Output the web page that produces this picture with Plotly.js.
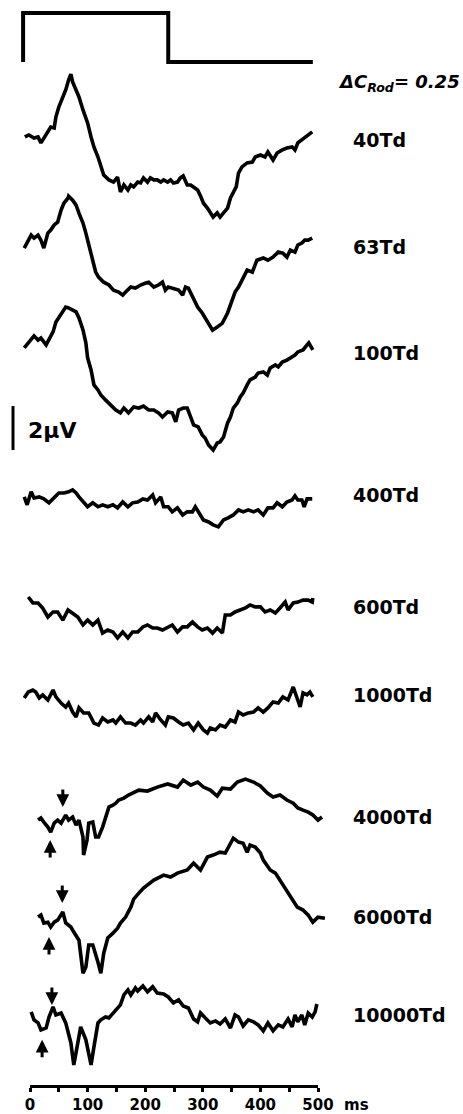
<!DOCTYPE html>
<html><head><meta charset="utf-8">
<script src="https://cdn.plot.ly/plotly-3.0.1.min.js"></script>
<style>html,body{margin:0;padding:0;background:#fff}#c{width:463px;height:1114px}</style>
</head><body><div id="c"></div>
<script>
// ---- data (time in ms, response in microvolts relative to each trace's own baseline) ----
const labels = ['40Td','63Td','100Td','400Td','600Td','1000Td','4000Td','6000Td','10000Td'];

const t40 = [-9,-2,7,14,19,24,31,36,42,45,50,57,62,67,71,74,80,85,92,100,106,111,118,123,128,137,145,152,157,163,170,175,180,187,192,197,204,209,215,221,227,232,239,244,249,256,261,266,273,279,284,291,296,301,308,313,318,325,330,336,343,348,353,358,362,368,377,386,391,400,408,413,422,429,438,446,455,460,465,472,477,483,490];
const v40 = [0,0.09,-0.05,0,-0.27,-0.05,0.23,0.45,0.41,0.91,1.36,1.77,2.14,2.59,2.86,2.5,2.14,1.82,1.23,0.64,0,-0.45,-0.91,-1.36,-1.73,-1.95,-2.05,-1.82,-2.5,-2.18,-2.41,-2.18,-2.27,-2.05,-2.09,-1.86,-2.05,-1.86,-1.95,-1.95,-2.05,-1.95,-2.05,-1.95,-2.09,-2.05,-1.86,-1.77,-2.18,-2.18,-2.27,-2.41,-2.68,-3.0,-3.23,-3.41,-3.64,-3.45,-3.64,-3.45,-3.23,-2.77,-2.5,-2.27,-1.64,-1.36,-1.18,-1.14,-0.91,-0.82,-0.91,-0.68,-1.05,-0.73,-0.59,-0.5,-0.45,-0.59,-0.27,-0.14,0,0.09,0.23];

const t63 = [-10,-3,2,7,14,19,24,31,36,42,48,54,59,66,67,74,80,85,92,97,102,109,114,119,128,137,145,154,161,166,175,183,192,201,206,215,223,230,235,240,249,258,265,270,275,282,291,299,308,317,325,334,343,351,356,362,368,377,386,394,405,413,422,431,439,446,452,460,465,472,477,483,490];
const v63 = [0,0.36,0.59,0.45,0.59,0.36,0,0.68,0.82,1.05,1.18,1.73,2.05,2.27,2.36,2.18,1.95,1.59,1.14,0.68,0.14,-0.55,-1.09,-1.32,-1.55,-1.68,-1.91,-2.0,-2.14,-2.0,-1.77,-1.82,-1.68,-1.59,-1.55,-1.77,-1.68,-1.55,-1.91,-1.77,-1.82,-1.91,-2.14,-1.77,-1.82,-2.23,-2.68,-2.95,-3.36,-3.73,-3.59,-3.41,-2.95,-2.36,-2.0,-1.77,-1.45,-1.0,-1.09,-0.55,-0.45,-0.55,-0.41,-0.18,-0.23,-0.41,-0.09,-0.18,0.14,0.23,0.36,0.36,0.45];

const t100 = [-10,-3,2,7,14,19,28,33,40,45,50,57,62,67,74,80,85,92,97,100,106,111,118,123,131,140,149,157,163,171,180,189,197,206,215,223,230,239,247,253,258,266,273,279,284,292,299,304,310,318,325,330,336,343,348,353,360,365,370,377,382,391,396,405,412,417,426,431,438,446,455,460,465,474,481,484,491];
const v100 = [0,0.23,0.45,0.55,0.36,0.45,0.14,0.36,0.73,1.18,1.36,1.64,1.86,1.82,1.73,1.64,1.36,0.82,0.23,-0.45,-1.0,-1.68,-1.91,-2.14,-2.36,-2.59,-2.82,-2.95,-2.73,-2.95,-2.68,-2.73,-2.64,-2.82,-2.82,-2.95,-3.14,-2.91,-2.95,-3.36,-2.82,-2.73,-2.73,-3.14,-3.5,-3.59,-3.95,-4.09,-4.41,-4.64,-4.32,-4.27,-4.05,-3.41,-3.14,-2.73,-2.5,-2.23,-2.05,-1.68,-1.45,-1.32,-1.14,-1.09,-1.23,-0.91,-0.77,-0.86,-0.64,-0.55,-0.41,-0.32,-0.18,-0.09,0.14,0.23,-0.09];

const t400 = [-10,-5,2,7,16,24,33,42,50,59,67,74,80,85,92,100,109,118,126,135,144,152,161,170,178,187,196,204,213,218,227,232,240,247,256,265,273,282,287,296,301,310,318,327,336,344,353,362,370,379,388,396,405,413,422,429,438,446,455,460,465,472,476,481,490];
const v400 = [0,-0.36,0.23,-0.05,0,-0.09,-0.27,0,0.18,0.18,0.23,0.32,0.18,0,-0.23,-0.45,-0.27,-0.45,-0.36,-0.45,-0.36,-0.5,-0.23,-0.45,-0.27,-0.23,-0.09,-0.14,0.09,-0.27,0,-0.45,-0.45,-0.68,-0.5,-0.82,-0.68,-0.68,-0.45,-0.82,-1.05,-1.14,-1.27,-1.36,-1.05,-0.95,-0.82,-0.59,-0.68,-0.59,-0.68,-0.59,-0.82,-0.5,-0.5,-0.27,-0.45,-0.23,-0.14,0.05,-0.14,-0.14,-0.45,-0.09,-0.09];

const t600 = [-3,5,14,22,31,40,48,57,66,74,83,92,100,109,118,126,135,144,152,161,170,178,187,196,204,213,221,230,239,247,256,265,273,282,291,299,308,317,325,334,339,348,356,365,374,382,391,400,408,417,426,434,443,448,457,465,474,483,490,491];
const v600 = [0,-0.27,-0.27,-0.5,-0.91,-0.68,-0.68,-1.05,-0.59,-0.73,-0.91,-1.27,-1.05,-1.27,-1.05,-1.64,-1.5,-1.59,-1.86,-1.59,-1.86,-1.59,-1.59,-1.36,-1.27,-1.41,-1.41,-1.5,-1.36,-1.27,-1.59,-1.36,-1.36,-1.14,-1.36,-1.5,-1.41,-1.64,-1.41,-1.64,-0.82,-0.82,-0.68,-0.59,-0.5,-0.36,-0.45,-0.45,-0.68,-0.59,-0.73,-0.5,-0.23,-0.59,-0.27,-0.23,-0.14,-0.14,-0.23,-0.05];

const t1000 = [-10,-3,5,10,16,22,31,40,45,54,62,67,74,80,85,93,102,111,119,126,135,144,149,157,166,175,183,192,197,206,213,218,227,235,240,249,258,266,275,284,292,301,308,313,322,330,339,348,356,362,370,379,388,396,405,413,422,431,439,448,457,464,469,474,481,486,491];
const v1000 = [0,0.27,0.36,0.27,0,0.14,-0.09,0.36,0.05,-0.23,-0.41,-0.23,-0.64,-0.86,-0.45,-0.68,-0.68,-1.14,-1.23,-0.91,-1.09,-1.0,-1.14,-0.86,-1.14,-1.14,-1.23,-1.0,-1.14,-0.86,-1.09,-0.68,-1.0,-1.23,-0.86,-0.91,-1.09,-1.23,-1.14,-1.45,-1.14,-1.45,-1.59,-1.36,-1.45,-1.23,-1.32,-1.0,-1.09,-0.64,-0.77,-0.68,-0.64,-0.45,-0.64,-0.45,-0.18,-0.23,0.05,-0.09,0.5,0,-0.41,0.23,0.14,0.27,0.05];

const t4000 = [14,19,24,31,36,42,48,54,62,67,74,80,85,92,93,99,102,109,114,119,126,131,137,144,149,154,163,171,180,189,204,221,239,256,266,279,291,301,313,325,334,348,360,374,388,400,412,422,434,446,457,465,474,483,491,500,507];
const v4000 = [0,0.09,-0.09,-0.32,-0.55,-0.14,0,-0.14,0.23,0,0.14,-0.23,0,-0.77,-1.59,-0.91,-0.14,-0.09,-0.77,-0.77,-0.32,0.14,0.59,0.68,0.77,0.91,1.0,1.14,1.23,1.36,1.32,1.5,1.64,1.5,1.82,1.59,1.73,1.5,1.36,1.09,1.45,1.41,1.73,1.86,1.73,1.55,1.23,1.05,1.14,0.91,0.77,0.55,0.45,0.36,0.23,0,0.14];

const t6000 = [14,19,24,31,36,42,48,57,62,71,76,85,92,97,102,109,118,123,128,135,144,152,157,166,175,180,189,197,215,232,244,256,273,284,296,308,318,330,339,348,353,362,370,377,382,391,400,405,417,426,434,443,452,464,474,483,491,500,512];
const v6000 = [0,0.09,-0.27,-0.23,-0.45,-0.23,-0.14,0.23,-0.27,-0.45,-0.68,-1.05,-2.55,-2.27,-1.27,-1.27,-2.05,-2.55,-1.64,-0.95,-0.73,-0.5,-0.27,0,0.45,0.82,1.09,1.32,1.68,1.91,1.82,2.0,2.14,2.45,2.14,2.73,2.82,2.95,2.91,3.36,3.59,3.41,3.36,2.95,3.27,3.18,2.91,2.59,2.14,2.0,1.68,1.36,1.0,0.45,0.32,0.09,-0.23,0,-0.05];

const t10000 = [2,7,14,19,28,33,40,45,54,62,71,76,83,88,97,106,111,118,123,131,137,144,149,157,163,170,175,183,187,196,204,213,221,232,240,249,258,266,275,284,291,296,304,313,322,330,339,348,356,362,370,379,388,396,405,413,422,431,439,448,455,460,465,472,477,483,490,495,498];
const v10000 = [0,-0.36,-0.5,-0.82,-0.73,-0.23,0.23,-0.14,-0.05,-0.5,-1.41,-2.41,-1.41,-0.68,-1.27,-2.41,-1.59,-0.5,-0.36,-0.23,-0.27,-0.05,0.09,0.32,0.77,1.0,0.77,1.09,0.95,1.18,0.91,1.14,0.86,0.82,0.68,0.41,0.55,0.27,0.18,-0.32,-0.45,-0.05,-0.27,-0.5,-0.41,-0.55,-0.32,-0.73,-0.14,-0.23,-0.64,-0.36,-0.45,-0.59,-0.86,-0.5,-0.86,-0.59,-0.68,-0.32,-0.68,-0.14,-0.45,-0.14,-0.59,-0.05,-0.23,0,0.36];

// stimulus timing (ms) and on/off state
const stimT = [-12,-12,240,240,491];
const stimOn = [0,1,1,0,0];

// arrow markers (ms) for the three brightest traces
const downArrowMs = [57,56,38];
const upArrowMs = [35,33,21];

const xTicks = [0,50,100,150,200,250,300,350,400,450,500];
const xTickText = ['0','','100','','200','','300','','400','','500'];
const contrastText = 'ΔC<sub>Rod</sub>= 0.25';
const scaleBarUV = 2;

// ---- layout constants (positions, not data) ----
const W = 463, H = 1114;
const PX_PER_MS = 0.576, X0PX = 30;      // 0 ms at 30 px
const PX_PER_UV = 22;                     // vertical scale
const xr = [-X0PX/PX_PER_MS, (W-X0PX)/PX_PER_MS];
const yr = [0, H/PX_PER_UV];
const offsets = [44.41,39.36,34.82,28.05,23.5,18.91,13.36,8.95,4.64];
const labelShift = [-0.14,0.05,-0.23,0.09,-0.45,0.14,0.14,0,-0.14];
const downRel = [0.59,0.64,0.32];
const upRel = [-0.91,-0.91,-1.27];
const stimBase = 47.82, stimH = 2.23;

const T = [t40,t63,t100,t400,t600,t1000,t4000,t6000,t10000];
const V = [v40,v63,v100,v400,v600,v1000,v4000,v6000,v10000];

const FONT = '"DejaVu Sans", Verdana, sans-serif';
const traces = [];
// carrier for the time axis (drawn first so its subplot sits underneath)
traces.push({x:[0,500], y:[null,null], xaxis:'x2', yaxis:'y', mode:'lines', hoverinfo:'skip', showlegend:false});
T.forEach((t,i)=>{
  traces.push({x:t, y:V[i].map(v=>v+offsets[i]), mode:'lines', type:'scatter',
    line:{color:'#000', width:3.6}, hoverinfo:'skip', showlegend:false});
});
traces.push({x:stimT, y:stimOn.map(s=>stimBase+s*stimH), mode:'lines', type:'scatter',
  line:{color:'#000', width:4}, hoverinfo:'skip', showlegend:false});

const ann = [];
labels.forEach((lab,i)=>{
  ann.push({x:(351-X0PX)/PX_PER_MS, y:offsets[i]+labelShift[i], xref:'x', yref:'y', xanchor:'left', yanchor:'middle',
    text:'<b>'+lab+'</b>', showarrow:false, font:{family:FONT, size:19, color:'#000'}});
});
ann.push({x:(336-X0PX)/PX_PER_MS, y:46.86, xref:'x', yref:'y', xanchor:'left', yanchor:'middle',
  text:'<b><i>'+contrastText+'</i></b>', showarrow:false, font:{family:FONT, size:18, color:'#000'}});
ann.push({x:(26-X0PX)/PX_PER_MS, y:31.09, xref:'x', yref:'y', xanchor:'left', yanchor:'middle',
  text:'<b>'+scaleBarUV+'μV</b>', showarrow:false, font:{family:FONT, size:22, color:'#000'}});
ann.push({x:(342-X0PX)/PX_PER_MS, y:0.41, xref:'x', yref:'y', xanchor:'left', yanchor:'middle',
  text:'<b>ms</b>', showarrow:false, font:{family:FONT, size:15, color:'#000'}});
for (let k=0;k<3;k++){
  const i = 6+k;
  ann.push({x:downArrowMs[k], y:offsets[i]+downRel[k], xref:'x', yref:'y', text:'', showarrow:true,
    ax:0, ay:-19, arrowhead:2, arrowsize:0.85, arrowwidth:3, arrowcolor:'#000'});
  ann.push({x:upArrowMs[k], y:offsets[i]+upRel[k], xref:'x', yref:'y', text:'', showarrow:true,
    ax:0, ay:19, arrowhead:2, arrowsize:0.85, arrowwidth:3, arrowcolor:'#000'});
}

const barX = (13-X0PX)/PX_PER_MS, barY0 = 30.18;
const layout = {
  width:W, height:H, margin:{l:0,r:0,t:0,b:0}, paper_bgcolor:'#fff', plot_bgcolor:'rgba(0,0,0,0)',
  showlegend:false,
  xaxis:{range:xr, visible:false, domain:[0,1], fixedrange:true},
  xaxis2:{range:[0,500], domain:[X0PX/W, (X0PX+500*PX_PER_MS)/W], anchor:'free', position:1-1086/H,
    showline:true, linewidth:3, linecolor:'#000', ticks:'outside', ticklen:4, tickwidth:3, tickcolor:'#000',
    tickvals:xTicks, ticktext:xTickText, showgrid:false, zeroline:false, ticklabelstandoff:0,
    tickfont:{family:FONT, size:15, color:'#000', weight:'bold'}, fixedrange:true},
  yaxis:{range:yr, visible:false, domain:[0,1], fixedrange:true},
  shapes:[{type:'line', xref:'x', yref:'y', x0:barX, x1:barX, y0:barY0, y1:barY0+scaleBarUV,
    line:{color:'#000', width:3}}],
  annotations:ann
};
Plotly.newPlot('c', traces, layout, {staticPlot:true, displayModeBar:false});
</script></body></html>
